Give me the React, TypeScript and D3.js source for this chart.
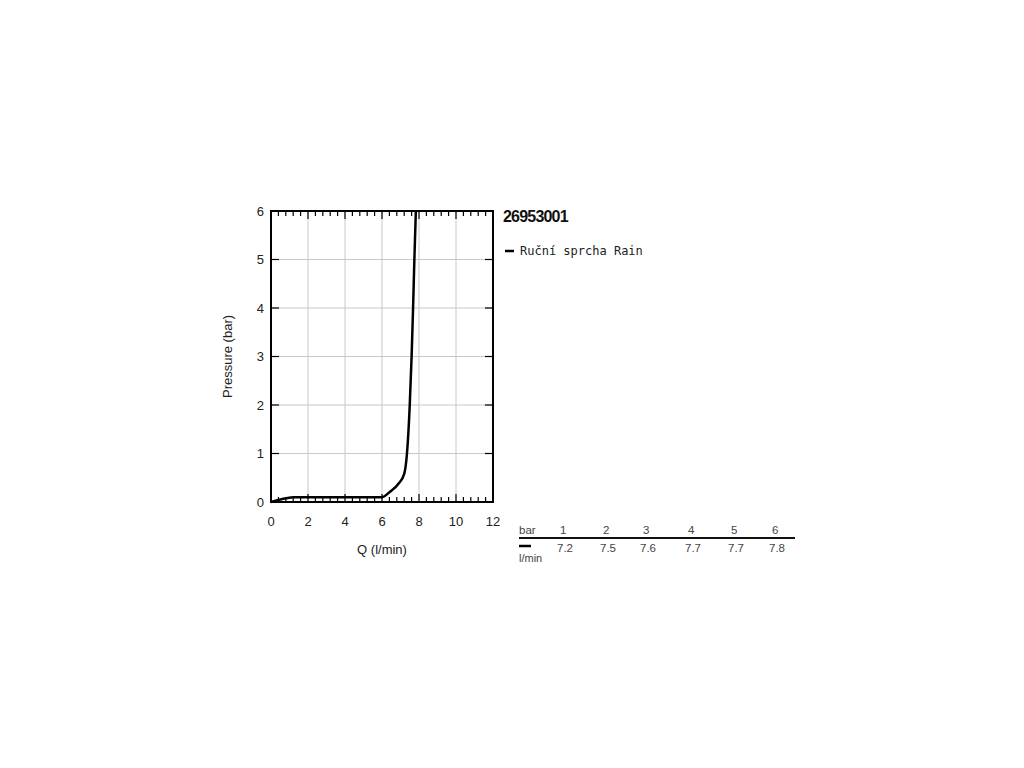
import React from "react";
import * as d3 from "d3";

const flowQ = [0, 0.5, 1.2, 3, 6, 6.4, 6.9, 7.2, 7.35, 7.5, 7.6, 7.68, 7.75, 7.83];
const pressureP = [0, 0.05, 0.1, 0.1, 0.1, 0.2, 0.38, 0.58, 1, 2, 3, 4, 5, 6];
const xTicks = [0, 2, 4, 6, 8, 10, 12];
const yTicks = [0, 1, 2, 3, 4, 5, 6];
const title = "26953001";
const seriesName = "Ruční sprcha Rain";
const tableBar = ["1", "2", "3", "4", "5", "6"];
const tableFlow = ["7.2", "7.5", "7.6", "7.7", "7.7", "7.8"];

export default function App() {
  const left = 271, right = 493, top = 211, bottom = 502;
  const x = d3.scaleLinear().domain([0, 12]).range([left, right]);
  const y = d3.scaleLinear().domain([0, 6]).range([bottom, top]);
  const minor = d3.range(0, 12.001, 0.4).filter((v) => Math.abs(v / 2 - Math.round(v / 2)) > 0.01);
  const pts = flowQ.map((q, i) => [q, pressureP[i]] as [number, number]);
  const line = d3
    .line<[number, number]>()
    .x((d) => x(d[0]))
    .y((d) => y(d[1]))
    .curve(d3.curveMonotoneX);
  const sans = "'Liberation Sans', Arial, sans-serif";
  const mono = "'DejaVu Sans Mono', monospace";
  const colX = [560, 603, 643, 688, 731, 772];
  return (
    <svg width={1024} height={768} style={{ position: "absolute", left: 0, top: 0, background: "#fff" }}>
      <rect width={1024} height={768} fill="#fff" />
      {xTicks.map((t) => (
        <line key={"gx" + t} x1={x(t)} x2={x(t)} y1={top} y2={bottom} stroke="#c8c8c8" strokeWidth={1} />
      ))}
      {yTicks.map((t) => (
        <line key={"gy" + t} x1={left} x2={right} y1={y(t)} y2={y(t)} stroke="#c8c8c8" strokeWidth={1} />
      ))}
      {minor.map((t) => (
        <g key={"mn" + t}>
          <line x1={x(t)} x2={x(t)} y1={top} y2={top + 5} stroke="#000" strokeWidth={1.2} />
          <line x1={x(t)} x2={x(t)} y1={bottom} y2={bottom - 5} stroke="#000" strokeWidth={1.2} />
        </g>
      ))}
      {xTicks.map((t) => (
        <g key={"mx" + t}>
          <line x1={x(t)} x2={x(t)} y1={top} y2={top + 8} stroke="#000" strokeWidth={1.2} />
          <line x1={x(t)} x2={x(t)} y1={bottom} y2={bottom - 8} stroke="#000" strokeWidth={1.2} />
          <text x={x(t)} y={526} textAnchor="middle" fontFamily={sans} fontSize={13} fill="#222">
            {t}
          </text>
        </g>
      ))}
      {yTicks.map((t) => (
        <g key={"my" + t}>
          <line x1={left} x2={left + 8} y1={y(t)} y2={y(t)} stroke="#000" strokeWidth={1.2} />
          <line x1={right} x2={right - 8} y1={y(t)} y2={y(t)} stroke="#000" strokeWidth={1.2} />
          <text x={264} y={y(t) + 4.5} textAnchor="end" fontFamily={sans} fontSize={13} fill="#222">
            {t}
          </text>
        </g>
      ))}
      <rect x={left} y={top} width={right - left} height={bottom - top} fill="none" stroke="#000" strokeWidth={2} />
      <path d={line(pts) || ""} fill="none" stroke="#000" strokeWidth={2.5} />
      <text x={382} y={554} textAnchor="middle" fontFamily={sans} fontSize={13} fill="#222">
        Q (l/min)
      </text>
      <text
        transform={`translate(232,${(top + bottom) / 2}) rotate(-90)`}
        textAnchor="middle"
        fontFamily={sans}
        fontSize={13}
        fill="#222"
      >
        Pressure (bar)
      </text>
      <text x={503} y={222} fontFamily={sans} fontSize={16} fontWeight="bold" letterSpacing={-0.8} fill="#111">
        {title}
      </text>
      <line x1={505} x2={514} y1={251} y2={251} stroke="#000" strokeWidth={2.5} />
      <text x={520} y={255} fontFamily={mono} fontSize={12} fill="#222">
        {seriesName}
      </text>
      <text x={519} y={534} fontFamily={sans} fontSize={11.5} fill="#444">
        bar
      </text>
      <line x1={519} x2={795} y1={538} y2={538} stroke="#111" strokeWidth={2} />
      {tableBar.map((b, i) => (
        <text key={"tb" + i} x={colX[i]} y={534} fontFamily={sans} fontSize={11.5} fill="#444">
          {b}
        </text>
      ))}
      {tableFlow.map((v, i) => (
        <text key={"tf" + i} x={colX[i] - 3} y={552} fontFamily={sans} fontSize={11.5} fill="#444">
          {v}
        </text>
      ))}
      <line x1={519} x2={531} y1={546} y2={546} stroke="#000" strokeWidth={2.5} />
      <text x={519} y={562} fontFamily={sans} fontSize={11} fill="#444">
        l/min
      </text>
    </svg>
  );
}
